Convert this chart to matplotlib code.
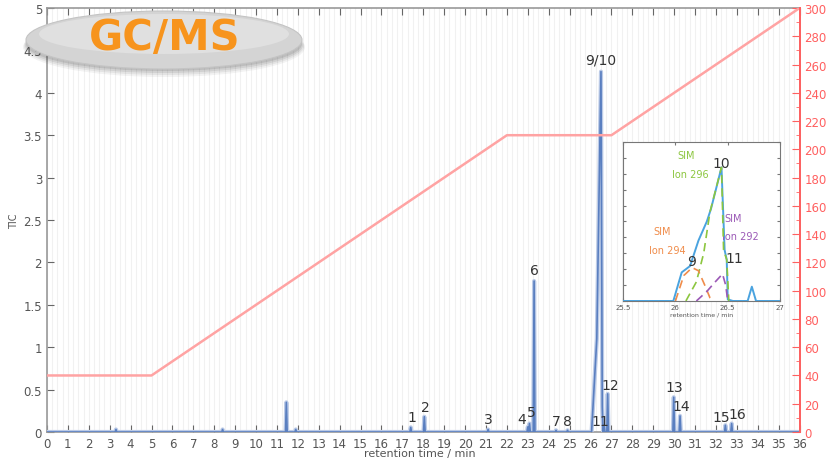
import matplotlib
matplotlib.use("Agg")
import matplotlib.pyplot as plt
from matplotlib.patches import Ellipse
from matplotlib.ticker import MultipleLocator

# ---- chromatogram peaks (retention time / min, TIC) ----
peak_rt = [3.3, 8.4, 11.45, 11.9, 17.4, 18.05, 21.1, 23.0, 23.08, 23.3,
           24.35, 24.9, 26.65, 26.82, 29.98, 30.28, 32.45, 32.75]
peak_tic = [0.03, 0.03, 0.35, 0.03, 0.055, 0.18, 0.03, 0.06, 0.1, 1.78,
            0.02, 0.02, 0.08, 0.45, 0.41, 0.19, 0.08, 0.1]

# main 9/10 cluster drawn as its own outline
cluster_rt = [26.05, 26.3, 26.5, 26.56, 26.6]
cluster_tic = [0.0, 1.1, 4.25, 0.3, 0.0]

# numbered peak labels
label_text = ["1", "2", "3", "4", "5", "6", "7", "8", "9/10", "11", "12",
              "13", "14", "15", "16"]
label_rt = [17.45, 18.1, 21.1, 22.72, 23.15, 23.3, 24.35, 24.9, 26.5, 26.45,
            26.95, 30.0, 30.35, 32.25, 33.0]
label_tic = [0.06, 0.18, 0.04, 0.04, 0.12, 1.8, 0.02, 0.02, 4.28, 0.02, 0.44,
             0.42, 0.19, 0.06, 0.1]

# oven temperature program
temp_time = [0, 5, 22, 27, 36]
temp_c = [40, 40, 210, 210, 300]

# zoomed 9/10/11 region: TIC and SIM traces
inset_rt = [25.5, 25.98, 26.06, 26.14, 26.22, 26.30, 26.34, 26.44, 26.47,
            26.49, 26.5, 26.55, 26.69, 26.73, 26.77, 27.0]
inset_tic = [0, 0, 0.9, 1.1, 1.9, 2.5, 2.9, 4.2, 1.6, 1.3, 0.05, 0.0, 0.0,
             0.45, 0.0, 0.0]
sim296_rt = [26.1, 26.2, 26.27, 26.33, 26.44, 26.46, 26.49, 26.51]
sim296 = [0.0, 0.6, 1.5, 2.8, 4.2, 1.6, 1.3, 0.0]
sim294_rt = [26.0, 26.08, 26.16, 26.22, 26.28, 26.33, 26.36]
sim294 = [0.0, 0.8, 1.05, 0.95, 0.5, 0.1, 0.0]
sim292_rt = [26.2, 26.3, 26.38, 26.45, 26.48, 26.5]
sim292 = [0.0, 0.3, 0.6, 0.85, 0.5, 0.0]

TRACE = "#5a7fc0"
TEMP = "#ffa3a3"
RED = "#ff6060"
GRAY = "#555555"

fig = plt.figure(figsize=(8.33, 4.6), dpi=100)
ax = fig.add_axes([0.0564, 0.0587, 0.9035, 0.9217])

# build the TIC trace from the peak list
pts = [(0.0, 0.0)]
for rt, h in sorted(zip(peak_rt, peak_tic)):
    if cluster_rt[0] <= rt <= cluster_rt[-1] + 0.02:
        continue
    pts += [(rt - 0.04, 0.0), (rt, h), (rt + 0.04, 0.0)]
pts.sort(key=lambda p: p[0])
xs = [p[0] for p in pts if p[0] < cluster_rt[0]] + cluster_rt + \
     [p[0] for p in pts if p[0] > cluster_rt[-1]] + [36.0]
ys = [p[1] for p in pts if p[0] < cluster_rt[0]] + cluster_tic + \
     [p[1] for p in pts if p[0] > cluster_rt[-1]] + [0.0]
ax.plot(xs, ys, color="#bccbe7", lw=3.0, zorder=3)
ax.plot(xs, ys, color=TRACE, lw=1.2, zorder=4)

for t, rt, h in zip(label_text, label_rt, label_tic):
    ax.text(rt, h + 0.03, t, ha="center", va="bottom", fontsize=10,
            color="#333333", zorder=6)

ax.set_xlim(0, 36)
ax.set_ylim(0, 5)
ax.xaxis.set_major_locator(MultipleLocator(1))
ax.xaxis.set_minor_locator(MultipleLocator(0.25))
ax.set_yticks([0, 0.5, 1, 1.5, 2, 2.5, 3, 3.5, 4, 4.5, 5])
ax.set_yticklabels(["0", "0.5", "1", "1.5", "2", "2.5", "3", "3.5", "4",
                    "4.5", "5"])
ax.grid(which="both", axis="x", color="#f1f1f1", lw=0.8)
ax.tick_params(which="major", direction="in", length=5, top=True,
               right=True, labelsize=8.5, labelcolor=GRAY, color="#666666")
ax.tick_params(which="minor", length=0)
for s in ax.spines.values():
    s.set_color("#999999")
    s.set_linewidth(1.2)
ax.set_ylabel("TIC", fontsize=7, color=GRAY, labelpad=3)
fig.text(420 / 833, 0.012, "retention time / min", ha="center",
         va="center", fontsize=8, color=GRAY)

ax2 = ax.twinx()
ax2.plot(temp_time, temp_c, color=TEMP, lw=1.8, zorder=2)
ax2.set_ylim(0, 300)
ax2.yaxis.set_major_locator(MultipleLocator(20))
ax2.yaxis.set_minor_locator(MultipleLocator(10))
ax2.tick_params(which="both", direction="in", colors=RED, labelsize=8.5,
                labelcolor=RED)
ax2.tick_params(which="major", length=6)
ax2.tick_params(which="minor", length=3)
ax2.spines["right"].set_color(RED)
ax2.spines["right"].set_linewidth(1.4)
for k in ("left", "top", "bottom"):
    ax2.spines[k].set_visible(False)

# zoomed region
axi = fig.add_axes([0.748, 0.3435, 0.1885, 0.3457])
axi.set_facecolor("white")
axi.plot(inset_rt, inset_tic, color="#4aa3df", lw=1.4, zorder=3)
axi.plot(sim296_rt, sim296, color="#8cc63f", lw=1.2, ls=(0, (5, 3)), zorder=4)
axi.plot(sim294_rt, sim294, color="#f08c4a", lw=1.2, ls=(0, (5, 3)), zorder=4)
axi.plot(sim292_rt, sim292, color="#9b59b6", lw=1.2, ls=(0, (5, 3)), zorder=4)
axi.set_xlim(25.5, 27)
axi.set_ylim(0, 5)
axi.set_xticks([25.5, 26, 26.5, 27])
axi.set_xticklabels(["25.5", "26", "26.5", "27"])
axi.yaxis.set_major_locator(MultipleLocator(0.5))
axi.tick_params(direction="in", length=2.5, top=True, right=True,
                labelleft=False, labelsize=5, labelcolor=GRAY, pad=2,
                color="#777777")
for s in axi.spines.values():
    s.set_color("#777777")
axi.set_xlabel("retention time / min", fontsize=4.5, color=GRAY, labelpad=1)
axi.text(26.1, 4.6, "SIM", color="#8cc63f", fontsize=7, ha="center", va="center")
axi.text(26.14, 4.0, "Ion 296", color="#8cc63f", fontsize=7, ha="center", va="center")
axi.text(26.44, 4.35, "10", color="#333333", fontsize=10, ha="center", va="center")
axi.text(26.55, 2.6, "SIM", color="#9b59b6", fontsize=7, ha="center", va="center")
axi.text(26.62, 2.05, "Ion 292", color="#9b59b6", fontsize=7, ha="center", va="center")
axi.text(25.87, 2.2, "SIM", color="#f08c4a", fontsize=7, ha="center", va="center")
axi.text(25.92, 1.6, "Ion 294", color="#f08c4a", fontsize=7, ha="center", va="center")
axi.text(26.15, 1.25, "9", color="#333333", fontsize=10, ha="center", va="center")
axi.text(26.56, 1.35, "11", color="#333333", fontsize=10, ha="center", va="center")

# GC/MS badge with soft shadow
W, H = 833.0, 460.0
cx, cy = 164 / W, 1 - 41 / H
for i, a in enumerate([0.06, 0.08, 0.10, 0.12]):
    fig.patches.append(Ellipse((cx, cy - (7 - i) / H), (282 - 2 * i) / W,
                               (60 - 2 * i) / H, transform=fig.transFigure,
                               facecolor="#333333", alpha=a, lw=0, zorder=10))
fig.patches.append(Ellipse((cx, cy), 276 / W, 58 / H, transform=fig.transFigure,
                           facecolor="#d4d4d4", edgecolor="#c4c4c4", lw=0.8,
                           zorder=11))
fig.patches.append(Ellipse((cx, cy + 6 / H), 250 / W, 40 / H,
                           transform=fig.transFigure, facecolor="#e0e0e0",
                           lw=0, zorder=11))
fig.text(cx + 1 / W, 1 - 38 / H, "GC/MS", ha="center", va="center",
         fontsize=30, fontweight="bold", color="#f7941d", zorder=12)

fig.savefig("out.png", dpi=100)
